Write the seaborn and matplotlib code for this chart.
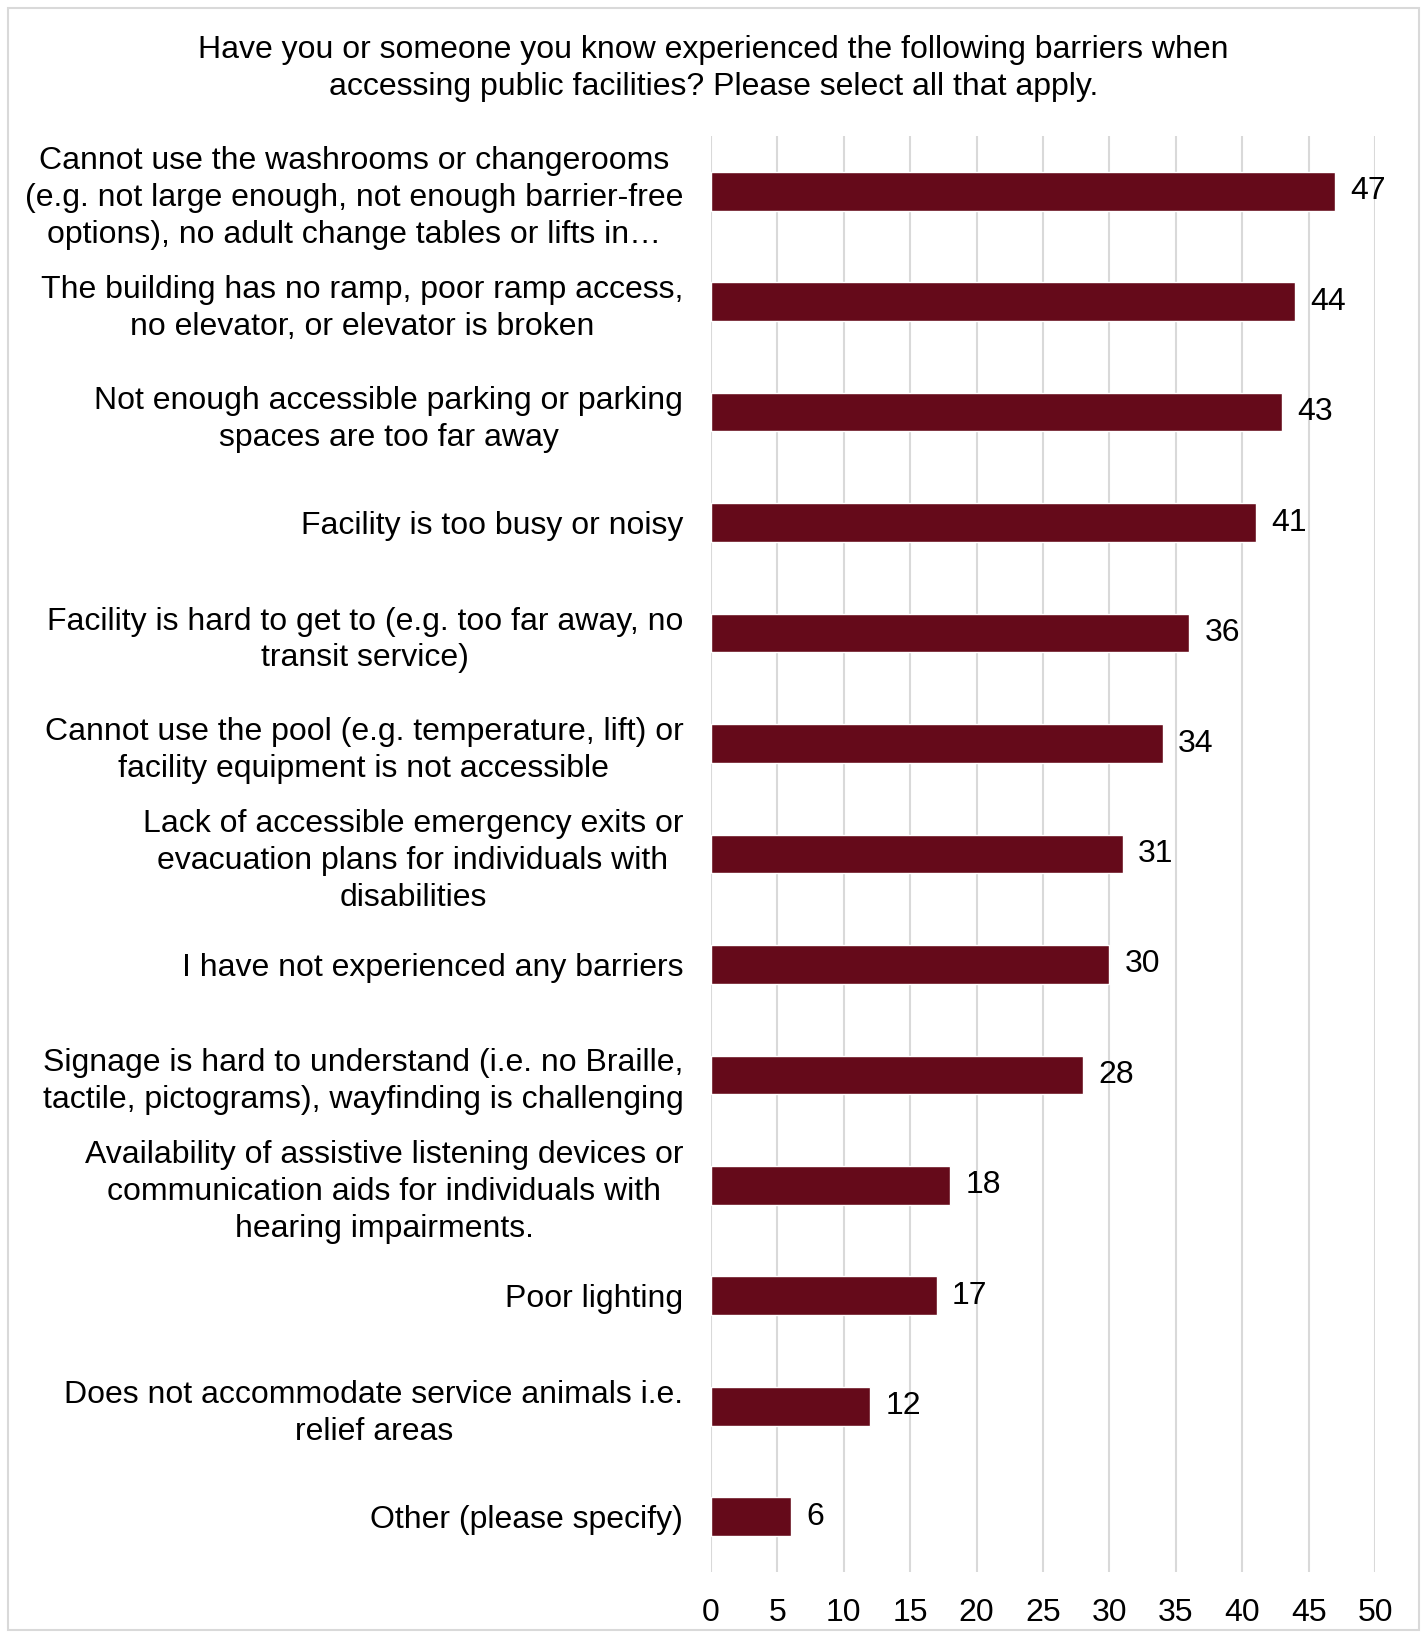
import matplotlib
matplotlib.use("Agg")
import matplotlib.pyplot as plt
import seaborn as sns
import pandas as pd
from matplotlib.patches import Rectangle

# Survey responses: barriers experienced when accessing public facilities
barriers = [
    "Cannot use the washrooms or changerooms\n(e.g. not large enough, not enough barrier-free\noptions), no adult change tables or lifts in…",
    "The building has no ramp, poor ramp access,\nno elevator, or elevator is broken",
    "Not enough accessible parking or parking\nspaces are too far away",
    "Facility is too busy or noisy",
    "Facility is hard to get to (e.g. too far away, no\ntransit service)",
    "Cannot use the pool (e.g. temperature, lift) or\nfacility equipment is not accessible",
    "Lack of accessible emergency exits or\nevacuation plans for individuals with\ndisabilities",
    "I have not experienced any barriers",
    "Signage is hard to understand (i.e. no Braille,\ntactile, pictograms), wayfinding is challenging",
    "Availability of assistive listening devices or\ncommunication aids for individuals with\nhearing impairments.",
    "Poor lighting",
    "Does not accommodate service animals i.e.\nrelief areas",
    "Other (please specify)",
]
counts = [47, 44, 43, 41, 36, 34, 31, 30, 28, 18, 17, 12, 6]
x_ticks = [0, 5, 10, 15, 20, 25, 30, 35, 40, 45, 50]

title = ("Have you or someone you know experienced the following barriers when\n"
         "accessing public facilities? Please select all that apply.")

df = pd.DataFrame({"barrier": barriers, "count": counts})

sns.set_theme(style="white")
plt.rcParams["font.family"] = ["Liberation Sans", "DejaVu Sans"]

BAR_COLOR = "#650A1A"
GRID_COLOR = "#D9D9D9"
FS = 23
LS = 1.3

fig = plt.figure(figsize=(14.27, 16.38), dpi=100)
ax = fig.add_axes([0.4983, 0.0403, 0.4653, 0.8767])

sns.barplot(data=df, x="count", y="barrier", orient="h", color=BAR_COLOR,
            width=0.35, saturation=1, ax=ax)

ax.set_xlim(0, 50)
ax.set_ylim(len(barriers) - 0.5, -0.5)
ax.set_xticks(x_ticks)
ax.set_xticklabels([str(t) for t in x_ticks], fontsize=FS, color="black")
ax.set_xlabel("")
ax.set_ylabel("")
for lbl in ax.get_yticklabels():
    lbl.set_fontsize(FS)
    lbl.set_multialignment("center")
    lbl.set_color("black")
    lbl.set_linespacing(LS)
ax.tick_params(axis="y", length=0, pad=20)
ax.tick_params(axis="x", length=0, pad=19)

ax.grid(axis="x", color=GRID_COLOR, linewidth=1.5)
ax.set_axisbelow(True)
for s in ax.spines.values():
    s.set_visible(False)

# value labels at the end of each bar
for container in ax.containers:
    ax.bar_label(container, labels=[str(v) for v in counts], padding=11,
                 fontsize=FS, color="black")

fig.text(0.5, 0.958, title, ha="center", va="center", fontsize=FS,
         linespacing=LS, color="black")

# light chart-area border
fig.patches.append(Rectangle((8 / 1427, 8 / 1638), 1 - 16 / 1427, 1 - 16 / 1638,
                             transform=fig.transFigure, fill=False,
                             edgecolor=GRID_COLOR, linewidth=1.5))

fig.savefig("out.png", dpi=100, facecolor="white")
